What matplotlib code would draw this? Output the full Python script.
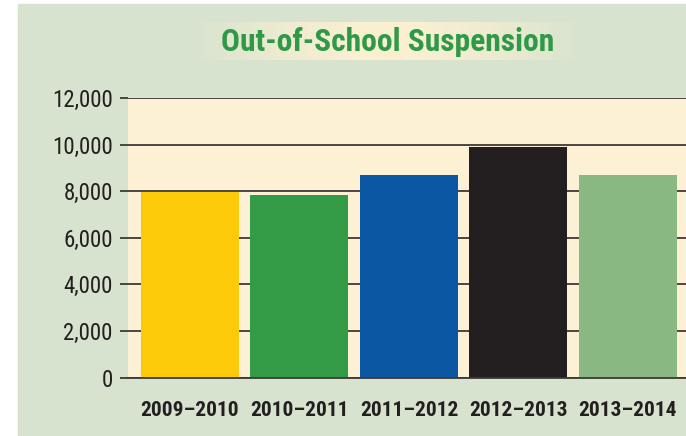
import numpy as np
import matplotlib
matplotlib.use("Agg")
import matplotlib.pyplot as plt
from matplotlib.patches import Rectangle

# donnees
annees = ["2009\u20132010", "2010\u20132011", "2011\u20132012", "2012\u20132013", "2013\u20132014"]
suspensions = [7980, 7840, 8700, 9910, 8700]
couleurs = ["#fdca0a", "#339a46", "#0b57a4", "#231f20", "#8ab882"]
yticks = [0, 2000, 4000, 6000, 8000, 10000, 12000]

vert_fond = "#d7e3cf"
creme = "#fcf1d5"
texte = "#231f20"
police = ["Roboto Condensed", "DejaVu Sans"]

W, H = 686, 436
fig = plt.figure(figsize=(W / 100, H / 100), dpi=100)
fig.patch.set_facecolor("white")

# panneau vert
axf = fig.add_axes([0, 0, 1, 1], zorder=-10)
axf.set_xlim(0, W)
axf.set_ylim(H, 0)
axf.add_patch(Rectangle((18, 4), W - 18, H - 4, color=vert_fond))
axf.set_axis_off()

# boite du titre avec degrade
axt = fig.add_axes([193 / W, 1 - 60 / H, 390 / W, 38 / H])
g = np.linspace(-1, 1, 200)
t = np.clip(1 - np.abs(g) ** 1.5, 0, 1)
c1 = np.array(matplotlib.colors.to_rgb(vert_fond))
c2 = np.array(matplotlib.colors.to_rgb("#fcf0d2"))
img = c1[None, :] * (1 - t[:, None]) + c2[None, :] * t[:, None]
axt.imshow(img[None, :, :], aspect="auto", extent=[0, 1, 0, 1])
axt.set_axis_off()
axt.text(0.5, 0.47, "Out-of-School Suspension", ha="center", va="center",
         fontsize=22.7, fontweight="bold", color="#2e9a47", family=police,
         transform=axt.transAxes)

# graphique
ax = fig.add_axes([128 / W, 1 - 377.5 / H, 1 - 128 / W, (377.5 - 98) / H])
ax.set_facecolor(creme)
x = np.arange(len(annees))
ax.bar(x, suspensions, width=0.895, color=couleurs, zorder=3)
ax.set_xlim(-0.566, 4.53)
ax.set_ylim(0, 12000)
ax.set_yticks(yticks)
ax.set_yticklabels([f"{v:,}" for v in yticks], family=police, fontsize=16.5, color=texte)
ax.set_xticks(x)
ax.set_xticklabels(annees, family=police, fontsize=15.4, fontweight="bold", color=texte)
ax.tick_params(axis="y", length=6, width=1.3, color="#3d3935", pad=5)
ax.tick_params(axis="x", length=0, pad=17)
ax.grid(axis="y", color="#3d3935", linewidth=1.3, zorder=1)
ax.set_axisbelow(True)
for s in ["top", "right", "left"]:
    ax.spines[s].set_visible(False)
ax.spines["bottom"].set_color("#3d3935")
ax.spines["bottom"].set_linewidth(1.3)
ax.spines["bottom"].set_zorder(4)

plt.savefig("out.png", dpi=100, facecolor=fig.get_facecolor())
